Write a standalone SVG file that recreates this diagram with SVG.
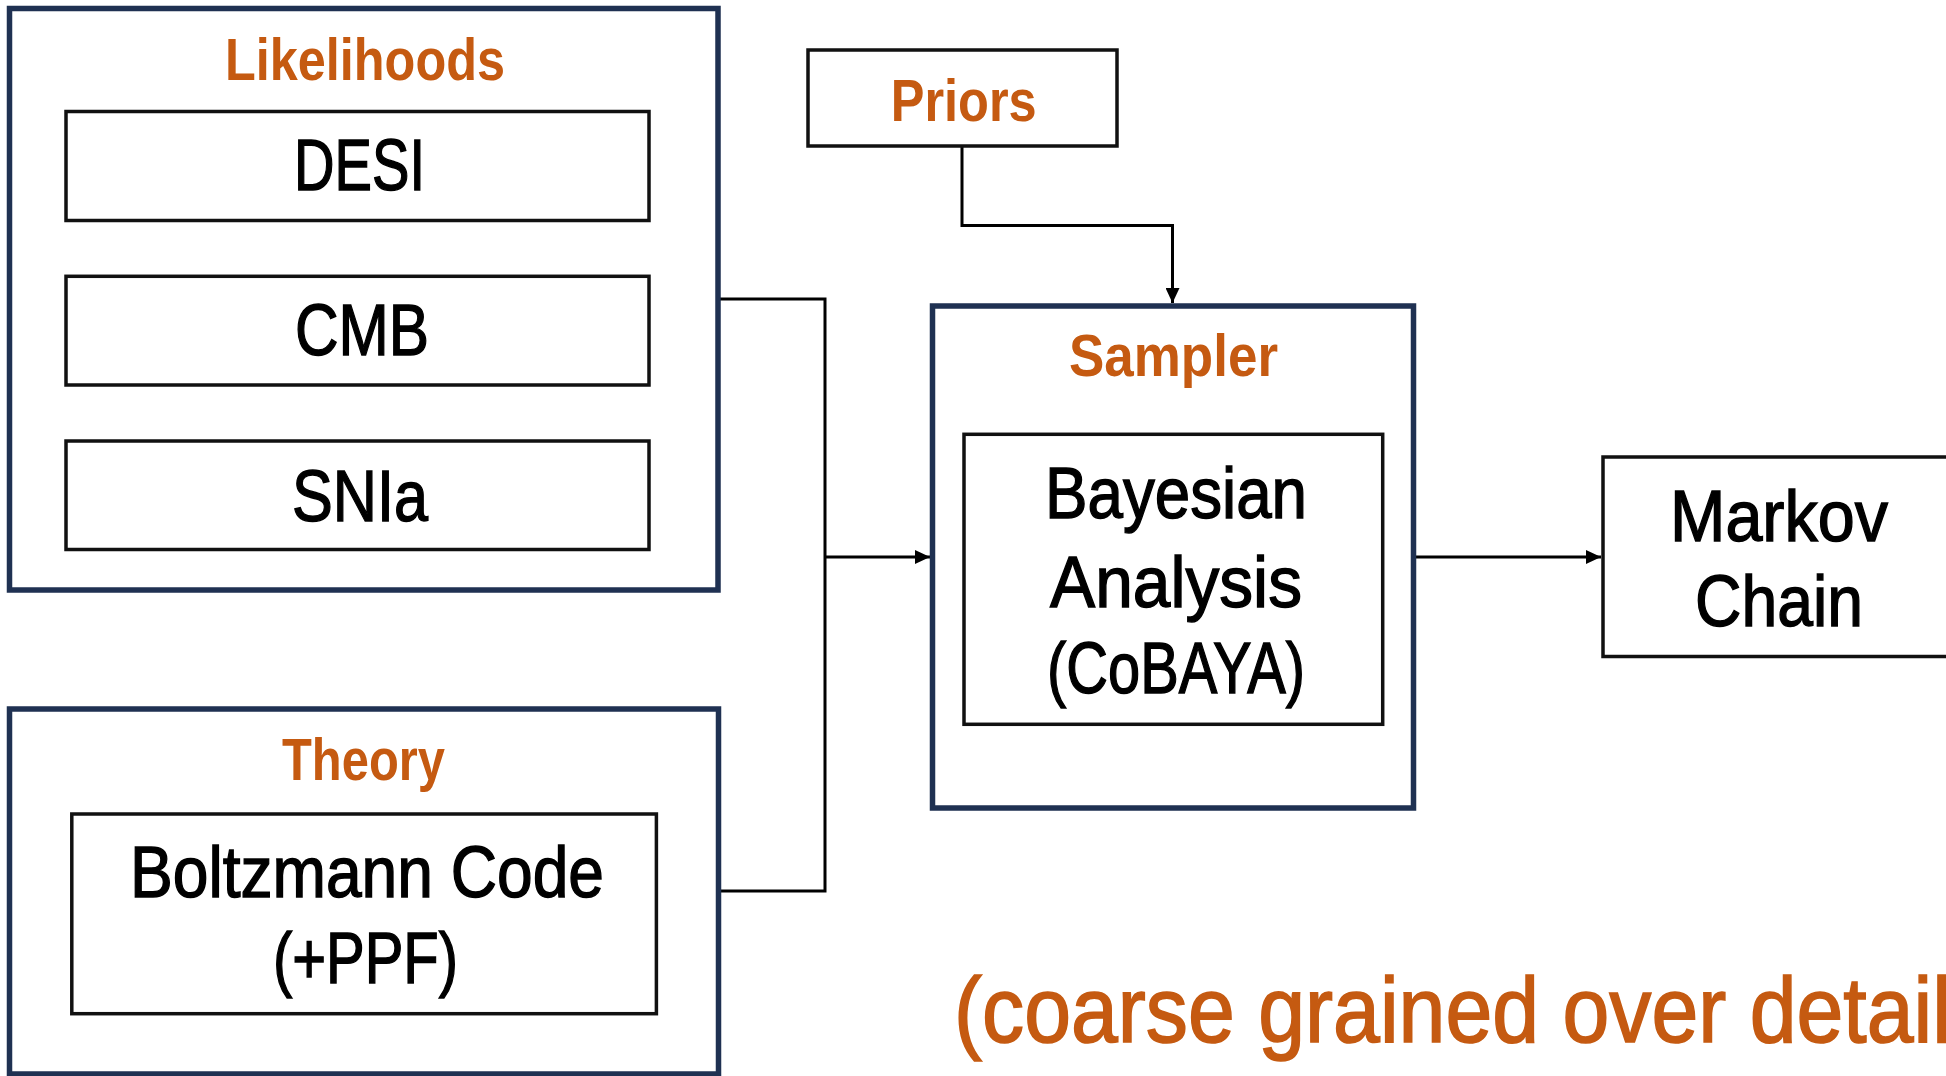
<svg xmlns="http://www.w3.org/2000/svg" width="1946" height="1076" viewBox="0 0 1946 1076">
<style>
.outer{fill:none;stroke:#1f3152;stroke-width:5.5}
.inner{fill:none;stroke:#111;stroke-width:3.5}
.title{font-family:"Liberation Sans",Arial,sans-serif;font-weight:bold;font-size:60px;fill:#c55a11;text-anchor:middle}
.lbl{font-family:"Liberation Sans",Arial,sans-serif;font-size:72px;fill:#000;stroke:#000;stroke-width:1.4;text-anchor:middle}
.note{font-family:"Liberation Sans",Arial,sans-serif;font-size:93px;fill:#c55a11;stroke:#c55a11;stroke-width:1.6}
.conn{fill:none;stroke:#000;stroke-width:3}
</style>
<defs>
<marker id="arr" markerWidth="15" markerHeight="14" refX="15" refY="7" orient="auto" markerUnits="userSpaceOnUse">
<path d="M0,0 L15,7 L0,14 Z" fill="#000"/>
</marker>
</defs>
<rect x="0" y="0" width="1946" height="1076" fill="#fff"/>

<g id="connectors">
<path class="conn" d="M720,299 H825 V891 H720"/>
<path class="conn" d="M825,557 H930" marker-end="url(#arr)"/>
<path class="conn" d="M962,146 V225.5 H1172.5 V303" marker-end="url(#arr)"/>
<path class="conn" d="M1416,557 H1601" marker-end="url(#arr)"/>
</g>

<g id="likelihoods">
<rect class="outer" x="9.5" y="8.5" width="708.5" height="581.5"/>
<text class="title" x="365" y="79.5" textLength="280" lengthAdjust="spacingAndGlyphs">Likelihoods</text>
</g>
<g id="desi">
<rect class="inner" x="66" y="111.5" width="583" height="109"/>
<text class="lbl" x="359.5" y="190" textLength="131" lengthAdjust="spacingAndGlyphs">DESI</text>
</g>
<g id="cmb">
<rect class="inner" x="66" y="276.3" width="583" height="108.7"/>
<text class="lbl" x="362" y="355" textLength="134" lengthAdjust="spacingAndGlyphs">CMB</text>
</g>
<g id="snia">
<rect class="inner" x="66" y="441" width="583" height="108.5"/>
<text class="lbl" x="360" y="520.5" textLength="136" lengthAdjust="spacingAndGlyphs">SNIa</text>
</g>

<g id="priors">
<rect class="inner" x="808" y="50" width="309" height="96"/>
<text class="title" x="963.7" y="120.5" textLength="146" lengthAdjust="spacingAndGlyphs">Priors</text>
</g>

<g id="sampler">
<rect class="outer" x="932.5" y="306" width="481" height="502"/>
<text class="title" x="1173.5" y="376" textLength="209" lengthAdjust="spacingAndGlyphs">Sampler</text>
</g>
<g id="bayesian">
<rect class="inner" x="964" y="434.3" width="418.7" height="290"/>
<text class="lbl" x="1176" y="517.5" textLength="262" lengthAdjust="spacingAndGlyphs">Bayesian</text>
<text class="lbl" x="1176" y="607" textLength="252" lengthAdjust="spacingAndGlyphs">Analysis</text>
<text class="lbl" x="1176" y="692.5" textLength="258" lengthAdjust="spacingAndGlyphs">(CoBAYA)</text>
</g>

<g id="markov">
<rect class="inner" x="1603" y="457" width="400" height="199.5"/>
<text class="lbl" x="1779" y="541" textLength="218" lengthAdjust="spacingAndGlyphs">Markov</text>
<text class="lbl" x="1779" y="626" textLength="168" lengthAdjust="spacingAndGlyphs">Chain</text>
</g>

<g id="theory">
<rect class="outer" x="9.5" y="709" width="709" height="365"/>
<text class="title" x="363.5" y="780" textLength="163" lengthAdjust="spacingAndGlyphs">Theory</text>
</g>
<g id="boltzmann">
<rect class="inner" x="71.8" y="814" width="584.6" height="199.7"/>
<text class="lbl" x="367" y="897" textLength="474" lengthAdjust="spacingAndGlyphs">Boltzmann Code</text>
<text class="lbl" x="365.5" y="983" textLength="185" lengthAdjust="spacingAndGlyphs">(+PPF)</text>
</g>

<g id="note">
<text class="note" x="954" y="1042" textLength="997" lengthAdjust="spacingAndGlyphs">(coarse grained over detail</text>
</g>
</svg>
